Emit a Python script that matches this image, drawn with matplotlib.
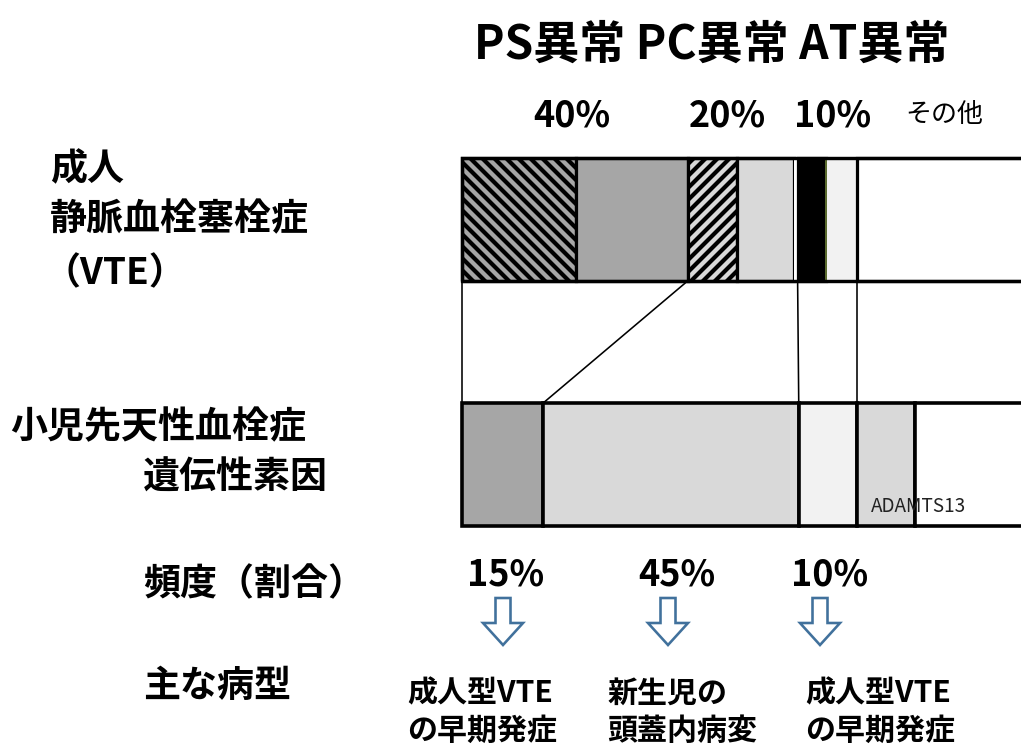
import numpy as np
import matplotlib
matplotlib.use('Agg')
import matplotlib.pyplot as plt
import matplotlib.patches as mpatches

plt.rcParams['font.family'] = ['Noto Sans CJK JP', 'DejaVu Sans']
plt.rcParams['hatch.linewidth'] = 2.1

# adult VTE bar (share of cases, %)
adult_values = [20.2, 19.8, 8.7, 10.1, 0.6, 5.1, 5.4, 30.1]
adult_colors = ['#A6A6A6', '#A6A6A6', '#D9D9D9', '#D9D9D9', 'white', 'black', '#F2F2F2', 'white']
adult_hatches = ['\\\\\\\\', '', '////', '', '', '', '', '']
adult_edges = ['black', 'black', 'black', 'black', 'white', 'black', '#5B6B2F', 'black']
adult_lw = [1.6, 1.6, 1.6, 1.6, 0, 1.6, 1.0, 1.6]

# pediatric congenital thrombophilia bar (%)
child_values = [14.3, 45.3, 10.3, 10.3, 19.8]
child_colors = ['#A6A6A6', '#D9D9D9', '#F2F2F2', '#D9D9D9', 'white']

# which boundaries are joined between the two bars (top index, bottom index)
links = [(0, 0), (2, 1), (5, 2), (7, 3)]

title = 'PS異常 PC異常 AT異常'
top_pct = ['40%', '20%', '10%']
bottom_pct = ['15%', '45%', '10%']
outcomes = ['成人型VTE\nの早期発症', '新生児の\n頭蓋内病変', '成人型VTE\nの早期発症']

W, H, DPI = 1021, 750, 144
fig = plt.figure(figsize=(W / DPI, H / DPI), dpi=DPI)

# bar axes: x in percent, bar 100% runs just past the right edge
ax = fig.add_axes([462 / W, 1 - 526 / H, 565 / W, 368 / H])
ax.set_xlim(0, 100)
ax.set_ylim(-0.25, 1.25)
ax.axis('off')

left = 0
for v, c, h, ec, lw in zip(adult_values, adult_colors, adult_hatches, adult_edges, adult_lw):
    ax.barh(1, v, left=left, height=0.5, color=c, hatch=h, edgecolor=ec,
            linewidth=lw, clip_on=False)
    left += v
ax.barh(1, 100, height=0.5, fill=False, edgecolor='black', linewidth=1.7, clip_on=False)

left = 0
for v, c in zip(child_values, child_colors):
    ax.barh(0, v, left=left, height=0.5, color=c, edgecolor='black',
            linewidth=1.8, clip_on=False)
    left += v

top_b = np.r_[0, np.cumsum(adult_values)]
bot_b = np.r_[0, np.cumsum(child_values)]
for i, j in links:
    ax.plot([top_b[i], bot_b[j]], [0.75, 0.25], color='black', lw=0.8, clip_on=False)

# overlay in pixel coordinates for the text and arrows
ov = fig.add_axes([0, 0, 1, 1])
ov.set_xlim(0, W)
ov.set_ylim(H, 0)
ov.axis('off')

ov.text(712, 45, title, fontsize=23, fontweight='bold', ha='center', va='center')
for x, s in zip([572, 727, 833], top_pct):
    ov.text(x, 116, s, fontsize=18, fontweight='bold', ha='center', va='center')
ov.text(944, 114, 'その他', fontsize=13, ha='center', va='center')

lab = dict(fontsize=18.5, fontweight='bold', ha='left', va='center')
ov.text(50, 170, '成人', **lab)
ov.text(50, 220, '静脈血栓塞栓症', **lab)
ov.text(44, 274, '（VTE）', **lab)
ov.text(10, 428, '小児先天性血栓症', **lab)
ov.text(143, 478, '遺伝性素因', **lab)
ov.text(143, 585, '頻度（割合）', **lab)
ov.text(143, 686, '主な病型', **lab)

ov.text(871, 507, 'ADAMTS13', fontsize=9.5, ha='left', va='center', color='#222222')

for x, s in zip([506, 677, 830], bottom_pct):
    ov.text(x, 575, s, fontsize=18, fontweight='bold', ha='center', va='center')

for x in [503, 668, 820]:
    ov.add_patch(mpatches.FancyArrow(x, 598, 0, 47, width=15, head_width=40,
                                     head_length=22, length_includes_head=True,
                                     facecolor='white', edgecolor='#41719C', lw=1.3))

for x, s in zip([407, 607, 805], outcomes):
    ov.text(x, 712, s, fontsize=15, fontweight='bold', ha='left', va='center',
            linespacing=1.3)

fig.savefig('out.png', dpi=DPI)
